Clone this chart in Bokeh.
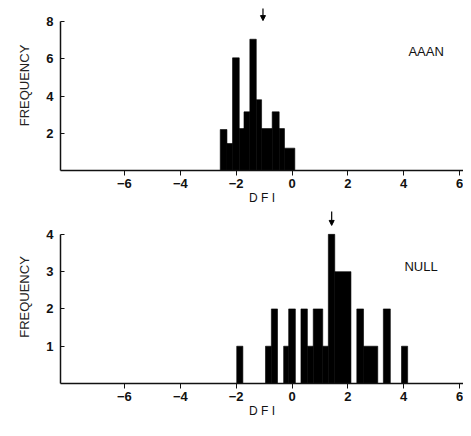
from bokeh.plotting import figure
from bokeh.models import FixedTicker, Label, Arrow, NormalHead, Range1d
from bokeh.layouts import column
from bokeh.embed import file_html
from bokeh.resources import INLINE

# ---- data ----
x_ticks = [-6, -4, -2, 0, 2, 4, 6]

# AAAN histogram: contiguous bins (edges) and frequencies
aaan_edges = [-2.57, -2.33, -2.13, -1.89, -1.72, -1.51, -1.28, -1.09, -0.71, -0.46, -0.27, 0.10]
aaan_freq = [2.2, 1.45, 6.05, 2.25, 3.15, 7.05, 3.8, 2.25, 3.15, 2.25, 1.2]
aaan_mean = -1.04
aaan_yticks = [2, 4, 6, 8]

# NULL histogram: bars (left, right, frequency)
null_left = [-1.98, -0.95, -0.74, -0.30, -0.12, 0.32, 0.55, 0.76, 1.10, 1.30, 1.53, 2.32, 2.56, 3.27, 3.92]
null_right = [-1.76, -0.74, -0.52, -0.12, 0.12, 0.55, 0.76, 1.10, 1.30, 1.53, 2.11, 2.56, 3.07, 3.52, 4.14]
null_freq = [1, 1, 2, 1, 2, 2, 1, 2, 1, 4, 3, 2, 1, 2, 1]
null_mean = 1.42
null_yticks = [1, 2, 3, 4]

X_RANGE = (-8.29, 6.14)
FONT = "Liberation Sans"
INK = "#111111"


def style(p, yticks, ymax_axis):
    p.xgrid.visible = False
    p.ygrid.visible = False
    p.outline_line_color = None
    p.background_fill_color = "white"
    p.border_fill_color = "white"

    xa = p.xaxis[0]
    xa.ticker = FixedTicker(ticks=x_ticks)
    xa.major_tick_out = 5
    xa.major_tick_in = 0
    xa.minor_tick_line_color = None
    xa.axis_line_width = 1.5
    xa.axis_line_color = INK
    xa.major_tick_line_color = INK
    xa.major_label_text_font = FONT
    xa.major_label_text_font_style = "bold"
    xa.major_label_text_font_size = "13px"
    xa.major_label_text_color = INK
    xa.major_label_standoff = 3
    xa.axis_label = "D F I"
    xa.axis_label_text_font = FONT
    xa.axis_label_text_font_style = "normal"
    xa.axis_label_text_font_size = "12px"
    xa.axis_label_text_color = INK
    xa.axis_label_standoff = 0

    ya = p.yaxis[0]
    ya.ticker = FixedTicker(ticks=yticks)
    ya.bounds = (0, ymax_axis)
    ya.major_tick_out = 0
    ya.major_tick_in = 4
    ya.minor_tick_line_color = None
    ya.axis_line_width = 1.5
    ya.axis_line_color = INK
    ya.major_tick_line_color = INK
    ya.major_label_text_font = FONT
    ya.major_label_text_font_style = "bold"
    ya.major_label_text_font_size = "13px"
    ya.major_label_text_color = INK
    ya.major_label_standoff = 7
    ya.axis_label = "FREQUENCY"
    ya.axis_label_text_font = FONT
    ya.axis_label_text_font_style = "normal"
    ya.axis_label_text_font_size = "13px"
    ya.axis_label_text_color = "#222222"
    ya.axis_label_standoff = 11


# ---- top panel: AAAN ----
top = figure(width=463, height=210, output_backend="svg", toolbar_location=None,
             x_range=Range1d(*X_RANGE), y_range=Range1d(0, 9.13),
             min_border_left=60, min_border_right=0, min_border_top=0, min_border_bottom=40)
top.quad(left=aaan_edges[:-1], right=aaan_edges[1:], bottom=0, top=aaan_freq,
         fill_color="black", line_color="black", line_width=0.6)
style(top, aaan_yticks, 8)
top.add_layout(Arrow(end=NormalHead(size=5, fill_color="black", line_color="black"),
                     x_start=aaan_mean, y_start=8.7, x_end=aaan_mean, y_end=8.05,
                     line_width=1.2, line_color="black"))
top.add_layout(Label(x=4.8, y=6.37, text="AAAN", text_align="center", text_baseline="middle",
                     text_font=FONT, text_font_size="13px", text_color=INK))

# ---- bottom panel: NULL ----
bot = figure(width=463, height=210, output_backend="svg", toolbar_location=None,
             x_range=Range1d(*X_RANGE), y_range=Range1d(0, 4.64),
             min_border_left=60, min_border_right=0, min_border_top=0, min_border_bottom=36)
bot.quad(left=null_left, right=null_right, bottom=0, top=null_freq,
         fill_color="black", line_color="black", line_width=0.6)
style(bot, null_yticks, 4)
bot.add_layout(Arrow(end=NormalHead(size=5, fill_color="black", line_color="black"),
                     x_start=null_mean, y_start=4.61, x_end=null_mean, y_end=4.24,
                     line_width=1.2, line_color="black"))
bot.add_layout(Label(x=4.62, y=3.13, text="NULL", text_align="center", text_baseline="middle",
                     text_font=FONT, text_font_size="13px", text_color=INK))

layout = column(top, bot, spacing=0)
open("out.html", "w").write(file_html(layout, INLINE))
